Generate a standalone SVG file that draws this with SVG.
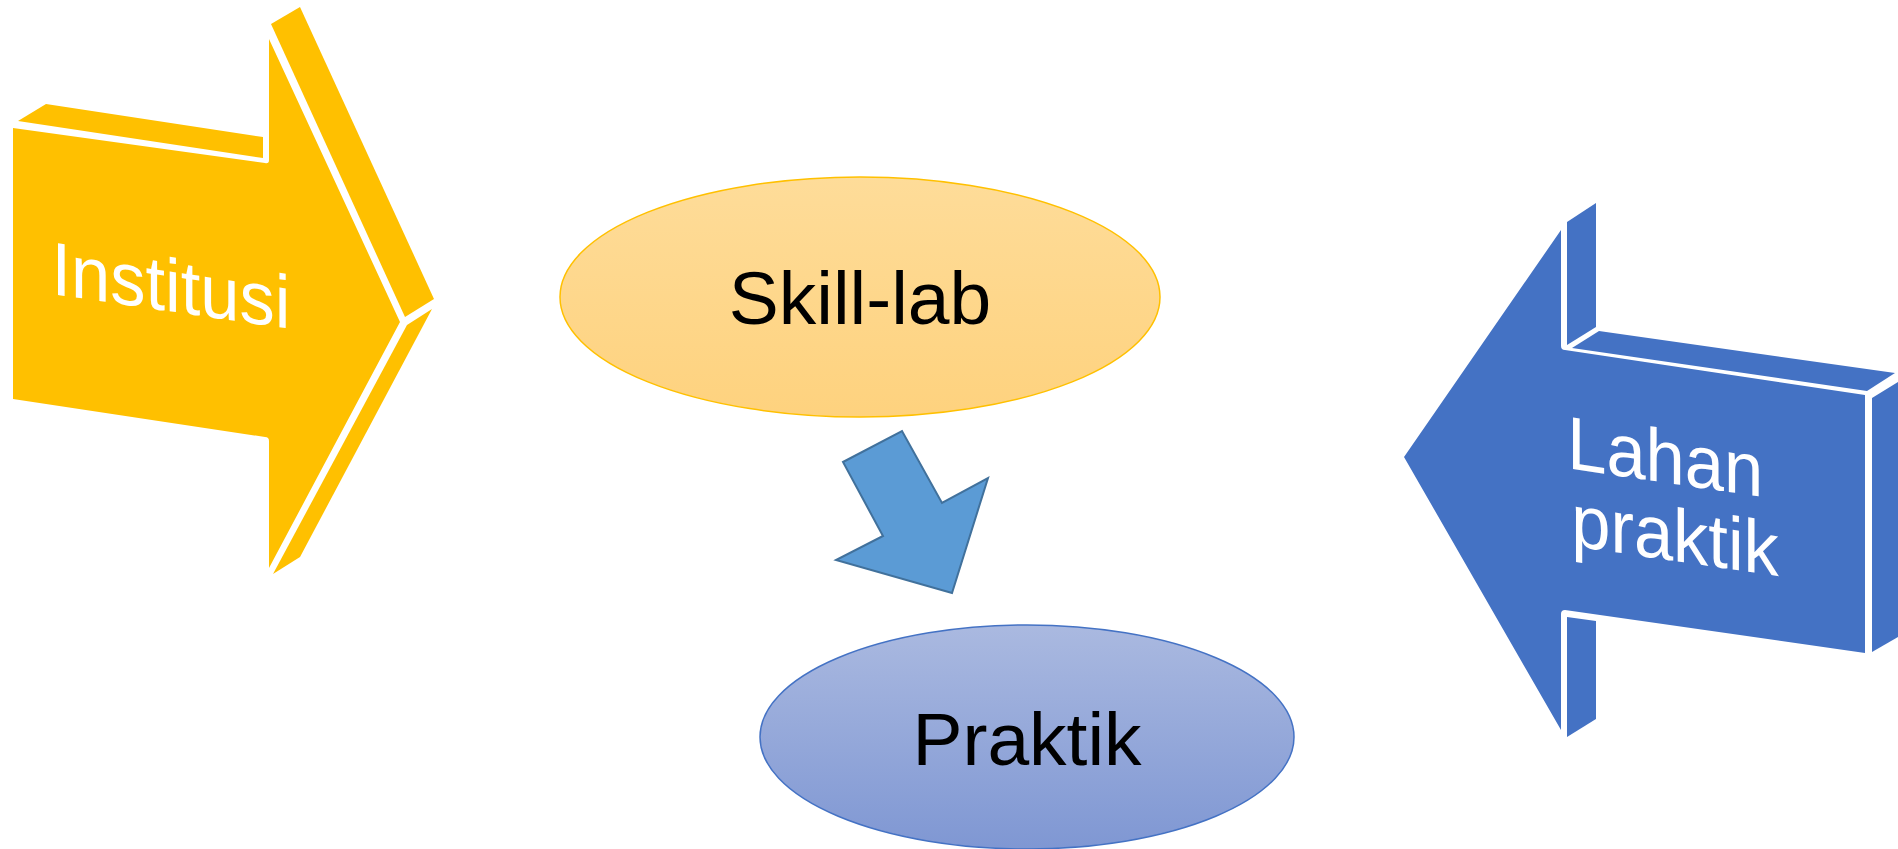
<svg xmlns="http://www.w3.org/2000/svg" width="1898" height="849" viewBox="0 0 1898 849">
  <defs>
    <linearGradient id="gGold" x1="0" y1="0" x2="0" y2="1">
      <stop offset="0" stop-color="#FEDC99"/>
      <stop offset="1" stop-color="#FED27E"/>
    </linearGradient>
    <linearGradient id="gBlue" x1="0" y1="0" x2="0" y2="1">
      <stop offset="0" stop-color="#AAB9E0"/>
      <stop offset="1" stop-color="#7F97D3"/>
    </linearGradient>
    <style>
      .yel { fill: #FFC000; }
      .blu { fill: #4472C4; }
      .lbl { font-family: "Liberation Sans", Arial, sans-serif; font-size: 75px; }
      .wt { fill: #FFFFFF; }
      .bk { fill: #000000; }
    </style>
  </defs>
  <rect width="1898" height="849" fill="#FFFFFF"/>

  <g id="institusi">
    <polygon class="yel" points="18,121 46,104 263,137 263,158"/>
    <polygon class="yel" points="271,24 300,7 434,299 405,317"/>
    <polygon class="yel" points="407,325 432,309 300,557 273,574"/>
    <path class="yel" d="M13,128 L265,163 Q269,164 269,160 L269,39 L400,322 L269,568 L269,441 Q269,437 265,437 L13,399 Z"/>
    <text class="lbl wt" transform="translate(51.4,294) skewY(8.3) scale(0.94,1)" x="0" y="0">Institusi</text>
  </g>

  <g id="lahan-praktik">
    <polygon class="blu" points="1567,222 1596,203 1596,327 1567,345"/>
    <polygon class="blu" points="1572,348 1599,331 1895,373 1867,391"/>
    <polygon class="blu" points="1872,398 1898,382 1898,637 1872,652"/>
    <polygon class="blu" points="1567,617 1596,621 1596,719 1567,737"/>
    <path class="blu" d="M1404,457 L1561,230 L1561,346 Q1561,350 1565,350 L1865,395 L1865,653 L1565,610 Q1561,610 1561,614 L1561,730 Z"/>
    <text class="lbl wt" text-anchor="middle" transform="translate(1675,484) skewY(8.3) scale(0.94,1)">
      <tspan x="0" y="0">Lahan</tspan>
      <tspan x="0" y="77">praktik</tspan>
    </text>
  </g>

  <g id="skill-lab">
    <ellipse cx="860" cy="297" rx="300" ry="120" fill="url(#gGold)" stroke="#FFC000" stroke-width="1.5"/>
    <text class="lbl bk" x="860" y="324" text-anchor="middle">Skill-lab</text>
  </g>

  <g id="praktik">
    <ellipse cx="1027" cy="737" rx="267" ry="112" fill="url(#gBlue)" stroke="#4472C4" stroke-width="1.5"/>
    <text class="lbl bk" x="1027" y="765" text-anchor="middle">Praktik</text>
  </g>

  <g id="connectors">
    <polygon points="843,462 902,431 942,503 988,478 952,593 836,560 883,536" fill="#5B9BD5" stroke="#41719C" stroke-width="2" stroke-linejoin="miter"/>
  </g>
</svg>
